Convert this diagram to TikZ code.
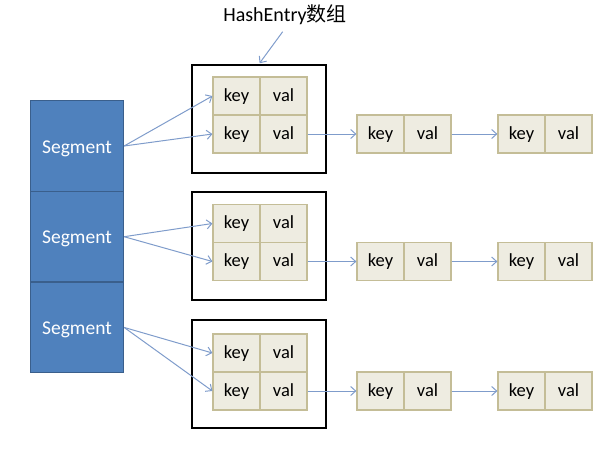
\documentclass[tikz,border=0pt]{standalone}
\usepackage{fontspec}
\setmainfont{Carlito}
\newfontfamily\cjkfont{Noto Sans CJK SC}
\usetikzlibrary{arrows.meta}
\definecolor{segblue}{HTML}{4F81BD}
\definecolor{segedge}{HTML}{3A5F8C}
\definecolor{cellfill}{HTML}{EEECE1}
\definecolor{celledge}{HTML}{C4BD97}
\definecolor{arrowblue}{HTML}{7F9CCB}

\begin{document}
\begin{tikzpicture}[
  x=1pt, y=-1pt,
  node distance=47pt,
  segment/.style={rectangle, draw=segedge, fill=segblue, line width=1.2pt, text=white, minimum width=93pt, minimum height=90.7pt, text height=14pt, text depth=0pt, font=\fontsize{19.5}{22}\selectfont},
  cell/.style={rectangle, draw=celledge, fill=cellfill, line width=1.2pt, minimum width=47pt, minimum height=38pt, inner sep=0pt, text height=13pt, text depth=2.5pt, font=\fontsize{18.5}{22}\selectfont},
  holder/.style={rectangle, draw=black, line width=2pt, minimum width=134pt, minimum height=108pt},
  line/.style={draw=arrowblue, line width=1pt, -{Straight Barb[length=5pt, width=9pt]}}
]
\useasboundingbox (0,0) rectangle (602,448);

\node [segment] (seg1) at (77, 146) {Segment};
\node [segment, below of=seg1, node distance=90.7pt] (seg2) {Segment};
\node [segment, below of=seg2, node distance=90.7pt] (seg3) {Segment};

\node [font=\fontsize{20}{24}\selectfont] (title) at (285, 15) {HashEntry{\cjkfont 数组}};

% first HashEntry array
\node [holder] (arr1) at (259, 119) {};
\node [cell] (k11) at (236.5, 96) {key};
\node [cell, right of=k11] (v11) {val};
\node [cell, below of=k11, node distance=38pt] (k12) {key};
\node [cell, right of=k12] (v12) {val};
\node [cell, right of=v12, node distance=97pt] (k13) {key};
\node [cell, right of=k13] (v13) {val};
\node [cell, right of=v13, node distance=94pt] (k14) {key};
\node [cell, right of=k14] (v14) {val};

% second HashEntry array
\node [holder] (arr2) at (259, 246) {};
\node [cell] (k21) at (236.5, 223.5) {key};
\node [cell, right of=k21] (v21) {val};
\node [cell, below of=k21, node distance=38pt] (k22) {key};
\node [cell, right of=k22] (v22) {val};
\node [cell, right of=v22, node distance=97pt] (k23) {key};
\node [cell, right of=k23] (v23) {val};
\node [cell, right of=v23, node distance=94pt] (k24) {key};
\node [cell, right of=k24] (v24) {val};

% third HashEntry array
\node [holder] (arr3) at (259, 374) {};
\node [cell] (k31) at (236.5, 353) {key};
\node [cell, right of=k31] (v31) {val};
\node [cell, below of=k31, node distance=38pt] (k32) {key};
\node [cell, right of=k32] (v32) {val};
\node [cell, right of=v32, node distance=97pt] (k33) {key};
\node [cell, right of=k33] (v33) {val};
\node [cell, right of=v33, node distance=94pt] (k34) {key};
\node [cell, right of=k34] (v34) {val};

\path [line, shorten <=4pt, shorten >=1pt] (title.south) -- (arr1.north);

\path [line] (seg1.east) -- (k11.west);
\path [line] (seg1.east) -- (k12.west);
\path [line] (seg2.east) -- (k21.west);
\path [line] (seg2.east) -- (k22.west);
\path [line] (seg3.east) -- (k31.west);
\path [line] (seg3.east) -- (k32.west);

\path [line] (v12) -- (k13);
\path [line] (v13) -- (k14);
\path [line] (v22) -- (k23);
\path [line] (v23) -- (k24);
\path [line] (v32) -- (k33);
\path [line] (v33) -- (k34);

\end{tikzpicture}
\end{document}
